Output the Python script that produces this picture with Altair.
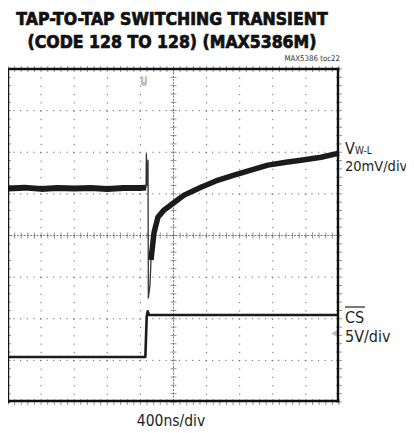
import altair as alt
import pandas as pd

# ---- data (screen divisions: x 0..10, y -4..4) ----
vw_flat_x = [0.0, 0.5, 1.0, 1.5, 2.0, 2.5, 3.0, 3.5, 4.0, 4.17]
vw_flat_y = [1.13, 1.15, 1.12, 1.14, 1.13, 1.14, 1.12, 1.14, 1.14, 1.15]
vw_spike_x = [4.17, 4.18, 4.20, 4.23, 4.24, 4.29, 4.32]
vw_spike_y = [1.14, 1.96, 1.21, 1.81, -1.50, -1.19, -0.59]
vw_rec_x = [4.32, 4.41, 4.53, 4.71, 4.83, 5.08, 5.32, 5.59, 5.83, 6.28, 6.83,
            7.34, 7.85, 8.40, 8.85, 9.46, 10.0]
vw_rec_y = [-0.59, 0.06, 0.44, 0.61, 0.68, 0.83, 0.97, 1.07, 1.16, 1.31, 1.45,
            1.57, 1.69, 1.76, 1.81, 1.88, 1.98]
cs_x = [0.0, 4.15, 4.19, 4.22, 4.26, 10.0]
cs_y = [-2.92, -2.92, -1.95, -1.82, -1.91, -1.91]

major_x = [1, 2, 3, 4, 6, 7, 8, 9]
major_y = [-3, -2, -1, 1, 2, 3]
minor_x = [round(0.2 * k, 1) for k in range(51)]
minor_y = [round(-4 + 0.2 * k, 1) for k in range(41)]

trig_x, trig_y = [4.11], [3.72]
gnd_x, gnd_y = [9.85], [-2.35]

W, H = 331, 333
FONT = "DejaVu Sans Condensed, DejaVu Sans, sans-serif"
INK = "#231f20"

xs = alt.Scale(domain=[0, 10], nice=False, zero=False)
ys = alt.Scale(domain=[-4, 4], nice=False, zero=False)
X = lambda f: alt.X(f, scale=xs, axis=None)
Y = lambda f: alt.Y(f, scale=ys, axis=None)


def line_layer(xv, yv, width, color="#1b1b1b"):
    df = pd.DataFrame({"x": xv, "y": yv, "i": range(len(xv))})
    return alt.Chart(df).mark_line(strokeWidth=width, color=color, strokeJoin="round",
                                   clip=False).encode(
        x=X("x:Q"), y=Y("y:Q"), order="i:Q")


grid_v = alt.Chart(pd.DataFrame({"x": major_x})).mark_rule(
    color="#666", strokeWidth=1, strokeDash=[1.2, 7.12], clip=False).encode(x=X("x:Q"))
grid_h = alt.Chart(pd.DataFrame({"y": major_y})).mark_rule(
    color="#666", strokeWidth=1, strokeDash=[1.2, 5.42], clip=False).encode(y=Y("y:Q"))

center_h = alt.Chart(pd.DataFrame({"y": [0]})).mark_rule(
    color="#777", strokeWidth=1, strokeDash=[2, 1.3], clip=False).encode(y=Y("y:Q"))
center_v = alt.Chart(pd.DataFrame({"x": [5]})).mark_rule(
    color="#777", strokeWidth=1, strokeDash=[2, 1.3], clip=False).encode(x=X("x:Q"))

ticks_h = alt.Chart(pd.DataFrame({"x": minor_x * 3,
                                  "y": [0] * len(minor_x) + [4] * len(minor_x) + [-4] * len(minor_x)})).mark_tick(
    orient="vertical", size=6, thickness=1, color="#666", clip=False).encode(x=X("x:Q"), y=Y("y:Q"))
ticks_v = alt.Chart(pd.DataFrame({"x": [5] * len(minor_y) + [0] * len(minor_y) + [10] * len(minor_y),
                                  "y": minor_y * 3})).mark_tick(
    orient="horizontal", size=6, thickness=1, color="#666", clip=False).encode(x=X("x:Q"), y=Y("y:Q"))


def edge(color="#111", width=2.4, **enc):
    return alt.Chart(pd.DataFrame({"d": [0]})).mark_rule(
        color=color, strokeWidth=width, strokeCap="square").encode(**enc)


frame = [
    edge(x=alt.value(0), y=alt.value(0), y2=alt.value(H)),
    edge(x=alt.value(W - 1), y=alt.value(0), y2=alt.value(H - 1)),
    edge(x=alt.value(0), x2=alt.value(W - 1), y=alt.value(0)),
    edge(x=alt.value(0), x2=alt.value(W - 1), y=alt.value(H - 1)),
]

trig_box = alt.Chart(pd.DataFrame({"x": trig_x, "y": trig_y})).mark_point(
    shape="M -0.6 -1 H 0.6 V 0.6 Q 0.6 1 0.2 1 H -0.2 Q -0.6 1 -0.6 0.6 Z",
    filled=True, size=100, color="#bdbdbd", opacity=1, clip=False).encode(x=X("x:Q"), y=Y("y:Q"))
trig_t = alt.Chart(pd.DataFrame({"x": trig_x, "y": trig_y})).mark_text(
    text="T", font="DejaVu Sans", fontWeight="bold", fontSize=8, color="white",
    baseline="middle", dy=-0.5, clip=False).encode(x=X("x:Q"), y=Y("y:Q"))
gnd = alt.Chart(pd.DataFrame({"x": gnd_x, "y": gnd_y})).mark_point(
    shape="triangle-left", filled=True, size=45, color="#bdbdbd", opacity=1, clip=False).encode(
    x=X("x:Q"), y=Y("y:Q"))

vw_flat = line_layer(vw_flat_x, vw_flat_y, 6)
vw_spike = line_layer(vw_spike_x, vw_spike_y, 1.3, "#333")
vw_rec = line_layer(vw_rec_x, vw_rec_y, 5.5)
cs = line_layer(cs_x, cs_y, 2.6)


def txt(s, x, y, size, align="left", weight="normal", color=INK, stroke=None):
    kw = dict(text=s, font=FONT, fontSize=size, align=align, fontWeight=weight,
              baseline="alphabetic", color=color)
    if stroke:
        kw.update(stroke=color, strokeWidth=stroke)
    return alt.Chart(pd.DataFrame({"d": [0]})).mark_text(**kw).encode(
        x=alt.value(x), y=alt.value(y))


texts = [
    txt("TAP-TO-TAP SWITCHING TRANSIENT", 164, -44, 17.5, "center", "bold", color="#111", stroke=0.7),
    txt("(CODE 128 TO 128) (MAX5386M)", 164, -21, 17.5, "center", "bold", color="#111", stroke=0.7),
    txt("MAX5386 toc22", 332, -8, 7.8, "right", color="#333"),
    txt("V", 337, 85, 16),
    txt("W-L", 347, 85, 10),
    txt("20mV/div", 337, 102, 14.5),
    txt("CS", 337, 254, 16),
    txt("5V/div", 337, 273, 16),
    txt("400ns/div", 163, 357, 15.5, "center"),
]
overline = alt.Chart(pd.DataFrame({"d": [0]})).mark_rule(color=INK, strokeWidth=1.2).encode(
    x=alt.value(337), x2=alt.value(357), y=alt.value(238))

chart = alt.layer(
    grid_v, grid_h, center_h, center_v, ticks_h, ticks_v,
    trig_box, trig_t, gnd,
    vw_flat, vw_spike, vw_rec, cs, *frame, overline, *texts
).properties(
    width=W, height=H,
    autosize=alt.AutoSizeParams(type="none"),
    padding={"left": 0, "top": 61, "right": 67, "bottom": 27},
).configure_view(stroke=None)

chart.save("out.html", embed_options={"renderer": "svg", "actions": False})
